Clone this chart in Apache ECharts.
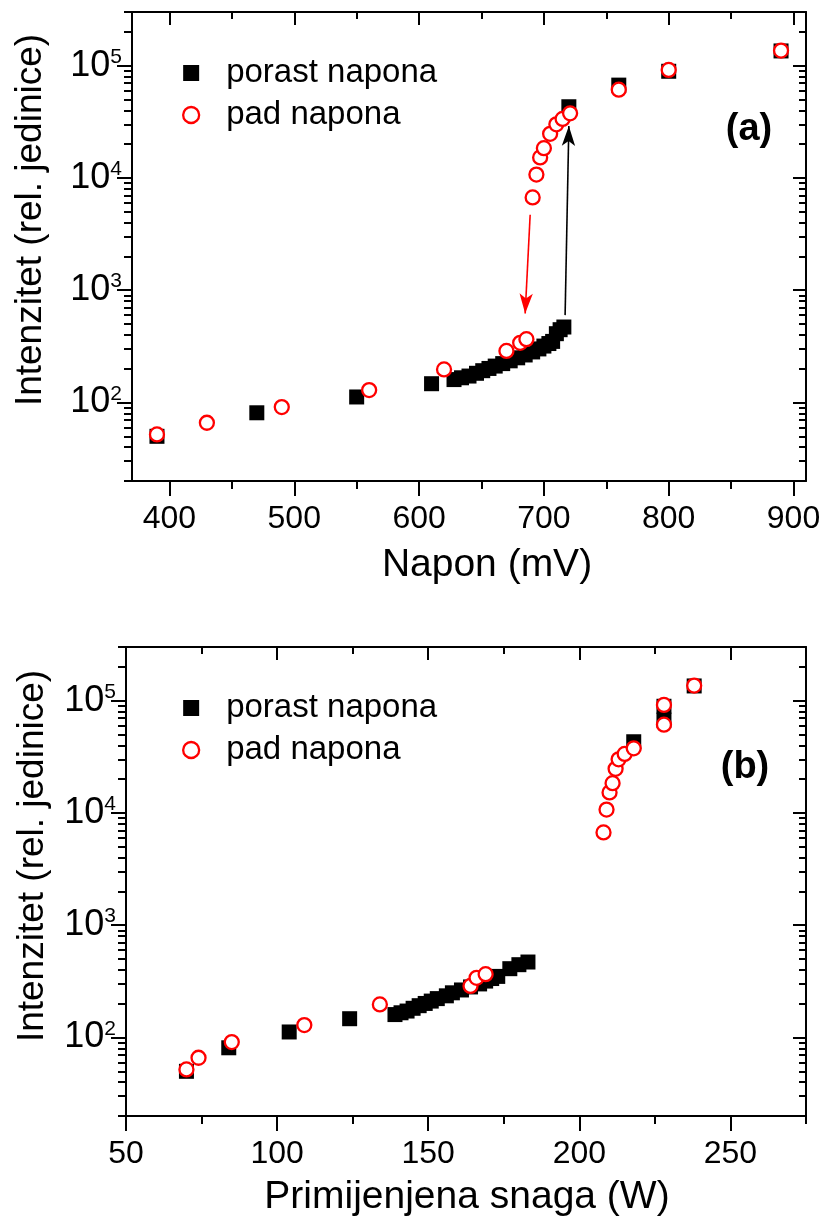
<!DOCTYPE html>
<html>
<head>
<meta charset="utf-8">
<script src="https://cdn.jsdelivr.net/npm/echarts@6/dist/echarts.min.js"></script>
<style>
html,body{margin:0;padding:0;background:#fff;}
#chart{width:823px;height:1221px;}
</style>
</head>
<body>
<div id="chart"></div>
<script>
// ---- data ----
const seriesNames = ['porast napona', 'pad napona'];

// porast napona (black squares)
const naponPorast = [390, 470, 550, 610, 628, 634, 640, 646, 651, 656, 661, 667, 673, 679, 685, 691, 696, 700, 704, 707, 710, 713, 716, 720, 760, 800, 890];
const snagaPorast = [70, 84, 104, 124, 139, 141, 143, 145, 147, 149, 151, 153, 156, 158, 161, 164, 167, 169, 171, 173, 177, 180, 183, 218, 228, 228, 238];
const intenzitetPorast = [50, 81, 112, 147, 160, 166, 172, 182, 192, 201, 211, 222, 235, 250, 265, 282, 300, 318, 335, 350, 410, 445, 470, 43000, 67000, 89000, 135000];

// pad napona (red open circles)
const naponPad = [390, 430, 490, 560, 620, 670, 681, 686, 691, 694, 697, 700, 705, 710, 715, 721, 760, 800, 890];
const snagaPad = [70, 74, 85, 109, 134, 164, 166, 169, 208, 209, 210, 211, 212, 213, 215, 218, 228, 228, 238];
const intenzitetPad = [52, 66, 91, 129, 197, 288, 340, 366, 6700, 10700, 15200, 18400, 24700, 30000, 33500, 37600, 61000, 91500, 136000];

// annotation arrows in panel (a): [start, end] in data space
const redArrow = [[689, 4700], [685, 620]];
const blackArrow = [[717, 600], [720, 29000]];

// tick values
const naponMajor = [400, 500, 600, 700, 800, 900];
const naponMinor = [450, 550, 650, 750, 850];
const snagaMajor = [50, 100, 150, 200, 250];
const snagaMinor = [75, 125, 175, 225, 275];
const intMajor = [100, 1000, 10000, 100000];
const intMinor = [20, 30, 40, 50, 60, 70, 80, 90,
  200, 300, 400, 500, 600, 700, 800, 900,
  2000, 3000, 4000, 5000, 6000, 7000, 8000, 9000,
  20000, 30000, 40000, 50000, 60000, 70000, 80000, 90000,
  200000, 300000];

const FONT = "'Liberation Sans', Arial, Helvetica, sans-serif";
const BLACK = '#000000';
const RED = '#ff0000';

function zip(xs, ys) { return xs.map((x, i) => [x, ys[i]]); }

function axisSet(dim, gi, type, min, max, major, minor, labelOpt) {
  const pos = dim === 'x' ? ['bottom', 'top'] : ['left', 'right'];
  const base = { gridIndex: gi, type: type, min: min, max: max, splitLine: { show: false } };
  if (type === 'log') base.logBase = 10;
  const line = { show: true, onZero: false, lineStyle: { color: BLACK, width: 2 } };
  const mk = (p, showLine, vals, len, inside, label) => Object.assign({}, base, {
    position: p,
    axisLine: showLine ? line : { show: false, onZero: false },
    axisTick: { show: true, customValues: vals, length: len, inside: inside, lineStyle: { color: BLACK, width: 2 } },
    axisLabel: label ? label : { show: false }
  });
  return [
    mk(pos[0], true, major, 15, false, labelOpt),
    mk(pos[0], false, minor, 8, false, null),
    mk(pos[1], true, major, 13, true, null),
    mk(pos[1], false, minor, 7, true, null)
  ];
}

const xLabel = (vals) => ({ show: true, customValues: vals, fontSize: 32, margin: 22, color: BLACK, fontFamily: FONT });
const yLabel = {
  show: true, customValues: intMajor, margin: 10, color: BLACK, fontFamily: FONT,
  formatter: function (v) { return '{b|10}{s|' + Math.round(Math.log10(v)) + '}'; },
  rich: {
    b: { fontSize: 36, lineHeight: 38, fontFamily: FONT, color: BLACK },
    s: { fontSize: 21, lineHeight: 21, verticalAlign: 'top', fontFamily: FONT, color: BLACK }
  }
};

const xAxes = [].concat(
  axisSet('x', 0, 'value', 370, 910, naponMajor, naponMinor, xLabel(naponMajor)),
  axisSet('x', 1, 'value', 50, 275, snagaMajor, snagaMinor, xLabel(snagaMajor))
);
const yAxes = [].concat(
  axisSet('y', 0, 'log', 20, 300000, intMajor, intMinor, yLabel),
  axisSet('y', 1, 'log', 20, 300000, intMajor, intMinor, yLabel)
);

const squareStyle = { symbol: 'rect', symbolSize: 15, itemStyle: { color: BLACK, opacity: 1 } };
const circleStyle = { symbol: 'circle', symbolSize: 14, itemStyle: { color: '#ffffff', borderColor: RED, borderWidth: 2.3, opacity: 1 } };

function arrowLine(pts, color) {
  return [{ coord: pts[0], lineStyle: { color: color } }, { coord: pts[1] }];
}

const series = [
  Object.assign({ type: 'scatter', name: seriesNames[0], xAxisIndex: 0, yAxisIndex: 0, z: 2,
    data: zip(naponPorast, intenzitetPorast), animation: false,
    markLine: { silent: true, animation: false, symbol: ['none', 'arrow'], symbolSize: [10, 20],
      label: { show: false }, lineStyle: { color: BLACK, width: 1.6, type: 'solid', opacity: 1 },
      data: [arrowLine(blackArrow, BLACK)] } }, squareStyle),
  Object.assign({ type: 'scatter', name: seriesNames[1], xAxisIndex: 0, yAxisIndex: 0, z: 3,
    data: zip(naponPad, intenzitetPad), animation: false,
    markLine: { silent: true, animation: false, symbol: ['none', 'arrow'], symbolSize: [10, 20],
      label: { show: false }, lineStyle: { color: RED, width: 1.6, type: 'solid', opacity: 1 },
      data: [arrowLine(redArrow, RED)] } }, circleStyle),
  Object.assign({ type: 'scatter', name: seriesNames[0], xAxisIndex: 4, yAxisIndex: 4, z: 2,
    data: zip(snagaPorast, intenzitetPorast), animation: false }, squareStyle),
  Object.assign({ type: 'scatter', name: seriesNames[1], xAxisIndex: 4, yAxisIndex: 4, z: 3,
    data: zip(snagaPad, intenzitetPad), animation: false }, circleStyle)
];

function legendAt(top) {
  return {
    orient: 'vertical', left: 177, top: top, itemWidth: 16, itemHeight: 16, itemGap: 6,
    selectedMode: false,
    data: [
      { name: seriesNames[0], icon: 'rect', itemStyle: { color: BLACK, opacity: 1 } },
      { name: seriesNames[1], icon: 'circle', itemStyle: { color: '#ffffff', borderColor: RED, borderWidth: 2.3, opacity: 1 } }
    ],
    textStyle: { fontSize: 33, lineHeight: 36, color: BLACK, fontFamily: FONT, padding: [0, 0, 0, 22] }
  };
}

function txt(x, y, text, size, opts) {
  return Object.assign({ type: 'text', x: x, y: y, silent: true,
    style: Object.assign({ text: text, fill: BLACK, font: size + 'px ' + FONT, textAlign: 'center', textVerticalAlign: 'middle' }, (opts && opts.style) || {}) },
    opts && opts.rotation ? { rotation: opts.rotation } : {});
}

const option = {
  backgroundColor: '#ffffff',
  animation: false,
  grid: [
    { left: 132, top: 12, width: 674, height: 469, outerBoundsMode: 'none', containLabel: false },
    { left: 126, top: 647, width: 680, height: 469, outerBoundsMode: 'none', containLabel: false }
  ],
  xAxis: xAxes,
  yAxis: yAxes,
  legend: [legendAt(50), legendAt(685)],
  series: series,
  graphic: [
    txt(31, 220, 'Intenzitet (rel. jedinice)', 37, { rotation: Math.PI / 2 }),
    txt(33, 856, 'Intenzitet (rel. jedinice)', 37, { rotation: Math.PI / 2 }),
    txt(487, 565, 'Napon (mV)', 39),
    txt(467, 1197, 'Primijenjena snaga (W)', 39),
    txt(749, 130, '(a)', 38, { style: { font: 'bold 38px ' + FONT } }),
    txt(745, 768, '(b)', 38, { style: { font: 'bold 38px ' + FONT } })
  ]
};

const chart = echarts.init(document.getElementById('chart'), null, { renderer: 'canvas' });
chart.setOption(option);
</script>
</body>
</html>
